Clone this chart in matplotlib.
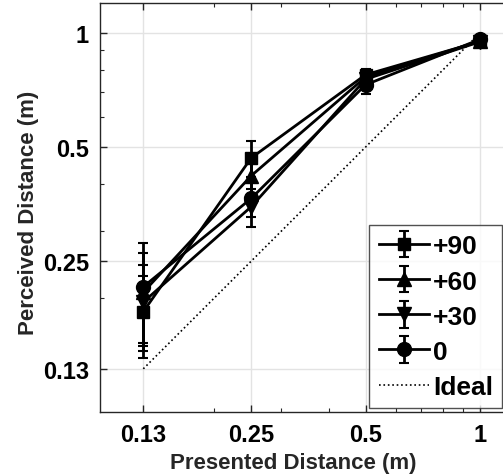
import numpy as np
import matplotlib as mpl
import matplotlib.pyplot as plt
from matplotlib.ticker import FixedLocator, FixedFormatter, LogLocator, NullFormatter

# presented distance (m)
presented = [0.13, 0.25, 0.5, 1.0]

# perceived distance per head angle
p90 = [0.184, 0.468, 0.776, 0.950]
p60 = [0.207, 0.420, 0.765, 0.952]
p30 = [0.195, 0.348, 0.755, 0.948]
p0 = [0.214, 0.366, 0.730, 0.962]

# error bar half-widths
e90 = [0.045, 0.050, 0.030, 0.020]
e60 = [0.055, 0.045, 0.030, 0.020]
e30 = [0.050, 0.040, 0.030, 0.020]
e0 = [0.065, 0.040, 0.040, 0.020]

ticks = [0.13, 0.25, 0.5, 1]
tick_labels = ["0.13", "0.25", "0.5", "1"]

mpl.rcParams.update({
    "font.family": ["Liberation Sans", "DejaVu Sans"],
    "font.weight": "bold",
})

fig = plt.figure(figsize=(5.03, 4.77), dpi=100)
ax = fig.add_axes([100 / 503, 64 / 477, 410 / 503, 409 / 477])

series = [
    ("+90", p90, e90, "s", 9),
    ("+60", p60, e60, "^", 10),
    ("+30", p30, e30, "v", 10),
    ("0", p0, e0, "o", 10),
]
handles = []
for label, vals, errs, mk, ms in series:
    h = ax.errorbar(presented, vals, yerr=errs, color="black", marker=mk,
                    markersize=ms, linewidth=2, elinewidth=2, capsize=3.5,
                    capthick=1.5, label=label)
    handles.append(h)

ideal, = ax.plot([ticks[0], ticks[-1]], [ticks[0], ticks[-1]], linestyle=":",
                 color="black", linewidth=1.2, label="Ideal")
handles.append(ideal)

ax.set_xscale("log")
ax.set_yscale("log")
ax.set_xlim(0.1, 1.2)
ax.set_ylim(0.1, 1.2)

for axis in (ax.xaxis, ax.yaxis):
    axis.set_major_locator(FixedLocator(ticks))
    axis.set_major_formatter(FixedFormatter(tick_labels))
    axis.set_minor_locator(LogLocator(base=10, subs=np.arange(2, 10)))
    axis.set_minor_formatter(NullFormatter())

ax.grid(True, which="major", color="#e3e3e3", linewidth=1)
ax.set_axisbelow(True)
ax.tick_params(which="both", direction="in", top=True, right=True,
               colors="#262626", labelcolor="black", labelsize=17)
ax.tick_params(which="major", length=5, width=1, pad=8)
ax.tick_params(which="minor", length=3, width=0.8)
for sp in ax.spines.values():
    sp.set_color("#262626")
    sp.set_linewidth(1)

ax.set_xlabel("Presented Distance (m)", fontsize=16, fontweight="bold",
              color="#262626")
ax.xaxis.set_label_coords((293 - 100) / 410, -40 / 409)
ax.set_ylabel("Perceived Distance (m)", fontsize=16, fontweight="bold",
              color="#262626")
ax.yaxis.set_label_coords(-61 / 410, 0.49)

leg = ax.legend(handles=handles, labels=["+90", "+60", "+30", "0", "Ideal"],
                loc="lower right", bbox_to_anchor=(502 / 503, 68 / 477),
                bbox_transform=fig.transFigure, fontsize=19, frameon=True,
                fancybox=False, edgecolor="#262626", handlelength=1.9,
                handletextpad=0.15, labelspacing=0.42, borderpad=0.35,
                borderaxespad=0)
leg.get_frame().set_linewidth(1)

fig.savefig("out.png", dpi=100)
